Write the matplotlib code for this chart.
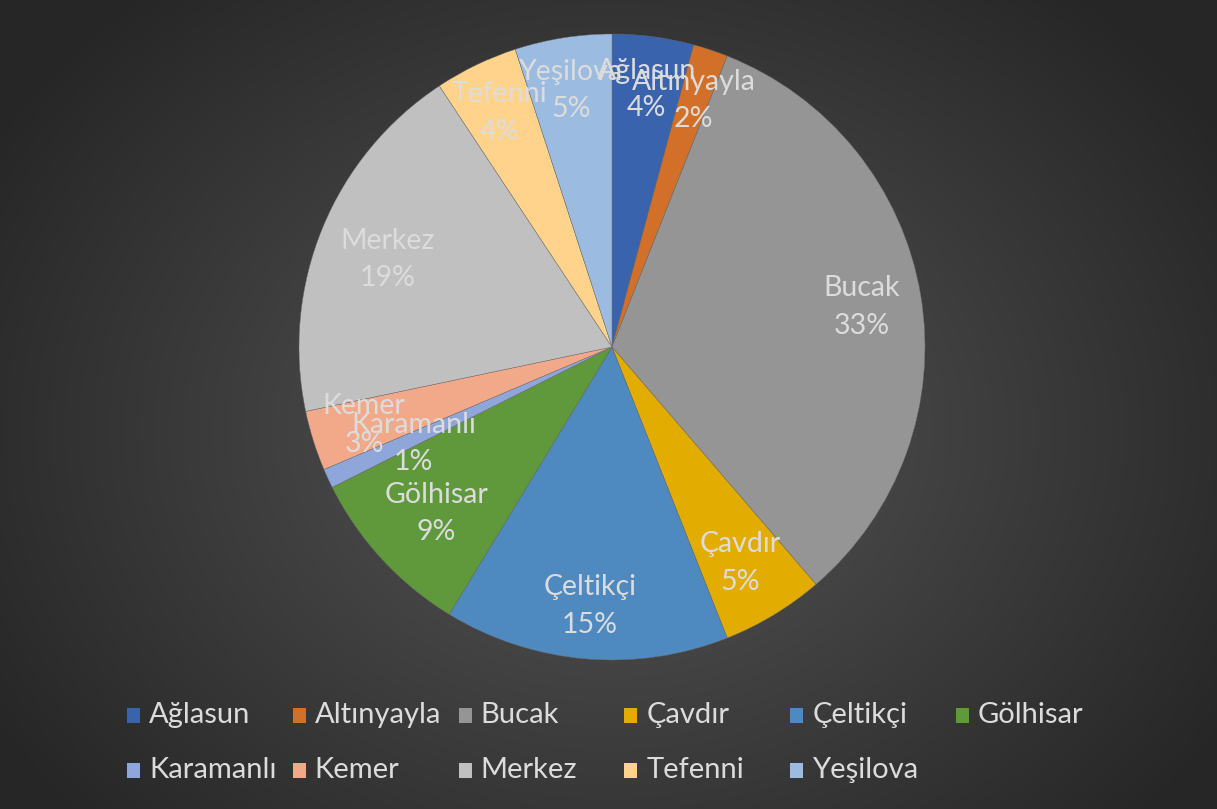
import numpy as np
import matplotlib
matplotlib.use("Agg")
import matplotlib.pyplot as plt
from matplotlib.patches import Rectangle

# ---- data ----
names = ["Ağlasun", "Altınyayla", "Bucak", "Çavdır", "Çeltikçi", "Gölhisar",
         "Karamanlı", "Kemer", "Merkez", "Tefenni", "Yeşilova"]
shares = [4.2, 1.8, 32.7, 5.3, 14.7, 8.9, 1.0, 3.1, 19.0, 4.3, 5.0]
colors = ["#3A63AD", "#D2702A", "#959595", "#E2AC00", "#4E89C0", "#5F993B",
          "#8EA6DA", "#F2A98A", "#C0C0C0", "#FFD38B", "#9BBBE1"]

W, H = 1217, 809
fig = plt.figure(figsize=(W / 100, H / 100), dpi=100)
plt.rcParams['font.family'] = ['Lato', 'DejaVu Sans']

# background radial gradient
bg = fig.add_axes([0, 0, 1, 1])
yy, xx = np.mgrid[0:H, 0:W]
d = np.sqrt(((xx - 610) / 720.0) ** 2 + ((yy - 430) / 580.0) ** 2)
d = np.clip(d, 0, 1)
c0, c1 = 0.34, 0.15
img = c0 + (c1 - c0) * d
bg.imshow(np.dstack([img, img, img]), extent=[0, W, H, 0], aspect='auto')
bg.set_xlim(0, W)
bg.set_ylim(H, 0)
bg.axis('off')

# pie
cx, cy, R = 612, 347, 313
ax = fig.add_axes([(cx - R) / W, (H - (cy + R)) / H, 2 * R / W, 2 * R / H])
wedges, _ = ax.pie(shares, colors=colors, startangle=90, counterclock=False,
                   radius=1.0, wedgeprops=dict(linewidth=0.3, edgecolor="#6a6a6a"))
ax.set_xlim(-1, 1)
ax.set_ylim(-1, 1)
ax.set_aspect('equal')
ax.axis('off')

txtc = "#DCDCDC"
fs = 20.5
adjust = {"Karamanlı": (0.12, 0.04), "Merkez": (0.05, -0.035),
          "Gölhisar": (0.05, 0.03), "Bucak": (-0.02, -0.01), "Çavdır": (-0.02, 0.02)}
for w, n, v in zip(wedges, names, shares):
    mid = np.deg2rad((w.theta1 + w.theta2) / 2)
    x = 0.83 * np.cos(mid)
    y = 0.83 * np.sin(mid)
    dx, dy = adjust.get(n, (0, 0))
    ax.text(x + dx, y + dy, f"{n}\n{round(v):.0f}%", ha='center', va='center',
            color=txtc, fontsize=fs, linespacing=1.55)

# legend (manual, fixed-width columns like the original)
for i, (n, c) in enumerate(zip(names, colors)):
    row, col = divmod(i, 6)
    x0 = 127 + col * 165.8
    y0 = 715 + row * 55
    bg.add_patch(Rectangle((x0, y0 - 7), 13, 15, facecolor=c, edgecolor='none'))
    bg.text(x0 + 22, y0, n, color=txtc, fontsize=21, va='center', ha='left')

fig.savefig("out.png", dpi=100)
